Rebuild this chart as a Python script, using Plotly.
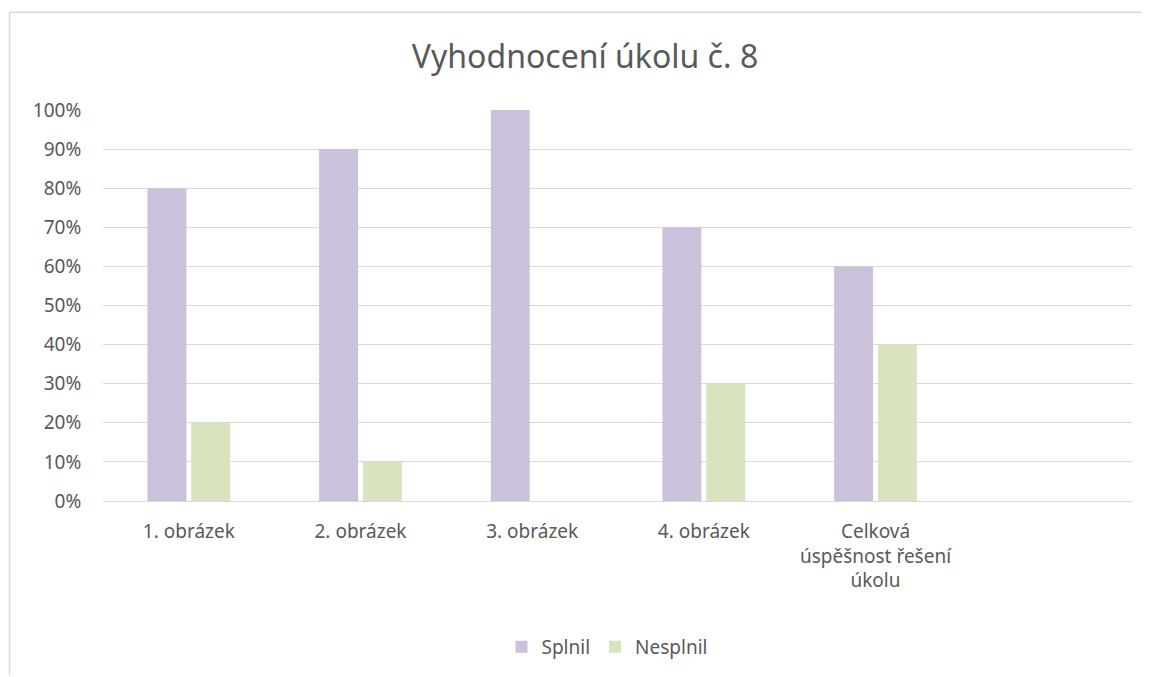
import plotly.graph_objects as go

# data
categories = ["1. obrázek", "2. obrázek", "3. obrázek", "4. obrázek",
              "Celková<br>úspěšnost řešení<br>úkolu", " "]
splnil = [0.8, 0.9, 1.0, 0.7, 0.6, None]
nesplnil = [0.2, 0.1, 0.0, 0.3, 0.4, None]
y_ticks = [0, 0.1, 0.2, 0.3, 0.4, 0.5, 0.6, 0.7, 0.8, 0.9, 1.0]

FONT = "Noto Sans"
TEXT = "#595959"

# page body adds an 8px margin, so the figure starts at (8, 8) on screen
OFF = 8
W, H = 1149 - OFF, 677 - OFF
# plot area on screen: x 103..1133, y 110..502
L, T = 103 - OFF, 110 - OFF
R, B = W - (1133 - OFF), H - (502 - OFF)
pw, ph = W - L - R, H - T - B


def px_x(x):
    return (x - OFF - L) / pw


def px_y(y):
    return (H - B - (y - OFF)) / ph


fig = go.Figure()
fig.add_trace(go.Bar(x=categories, y=splnil, name="Splnil",
                     marker=dict(color="#CCC1DA", line=dict(width=0))))
fig.add_trace(go.Bar(x=categories, y=nesplnil, name="Nesplnil",
                     marker=dict(color="#D7E4BD", line=dict(width=0))))

# chart border (only left and top visible in the picture)
fig.add_shape(type="line", xref="paper", yref="paper",
              x0=px_x(9.5), x1=px_x(1149), y0=px_y(12), y1=px_y(12),
              line=dict(color="#D9D9D9", width=1.5))
fig.add_shape(type="line", xref="paper", yref="paper",
              x0=px_x(9.5), x1=px_x(9.5), y0=px_y(12), y1=px_y(677),
              line=dict(color="#D9D9D9", width=1.5))

fig.update_layout(
    width=W, height=H,
    margin=dict(l=L, r=R, t=T, b=B),
    paper_bgcolor="white", plot_bgcolor="white",
    font=dict(family=FONT, color=TEXT),
    title=dict(text="Vyhodnocení úkolu č. 8", x=px_x(585), xanchor="center",
               xref="paper", y=1 - (57 - OFF) / H, yanchor="middle",
               font=dict(size=32, color=TEXT, family=FONT)),
    barmode="group", bargap=0.49, bargroupgap=0.11,
    showlegend=True,
    legend=dict(orientation="h", x=px_x(607), xanchor="center", xref="paper",
                y=px_y(647), yanchor="middle",
                font=dict(size=19, color=TEXT), traceorder="normal"),
    xaxis=dict(showgrid=False, showline=True, linecolor="#D9D9D9",
               linewidth=1, ticks="outside", ticklen=13,
               tickcolor="rgba(0,0,0,0)",
               tickfont=dict(size=19, color=TEXT), fixedrange=True),
    yaxis=dict(range=[0, 1], tickvals=y_ticks, tickformat=".0%",
               showgrid=True, gridcolor="#D9D9D9", gridwidth=1,
               zeroline=False, showline=False, ticks="outside",
               ticklen=17, tickcolor="rgba(0,0,0,0)",
               tickfont=dict(size=19, color=TEXT)),
)

fig.write_html("out.html")
